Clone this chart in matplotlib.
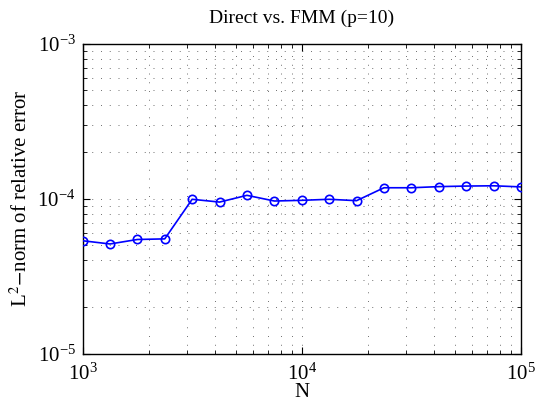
import numpy as np
import matplotlib
matplotlib.use('Agg')
import matplotlib.pyplot as plt
from matplotlib.ticker import LogLocator, NullFormatter

# N = 10^3 ... 10^5, 17 sample sizes
N = [1000, 1334, 1778, 2371, 3162, 4217, 5623, 7499, 10000,
     13335, 17783, 23714, 31623, 42170, 56234, 74989, 100000]
err = [5.35e-5, 5.1e-5, 5.45e-5, 5.5e-5, 9.9e-5, 9.5e-5, 1.05e-4, 9.65e-5, 9.75e-5,
       9.9e-5, 9.7e-5, 1.175e-4, 1.175e-4, 1.195e-4, 1.205e-4, 1.21e-4, 1.19e-4]

plt.rcParams['font.family'] = ['Liberation Serif', 'DejaVu Serif']
plt.rcParams['mathtext.fontset'] = 'stix'

fig = plt.figure(figsize=(5.36, 4.07), dpi=100)
ax = fig.add_axes([0.154, 0.131, 0.818, 0.762])

ax.loglog(N, err, '-o', color='#0000ff', lw=1.2, ms=6, mfc='none', mew=1.2, zorder=3)

ax.set_xlim(1e3, 1e5)
ax.set_ylim(1e-5, 1e-3)
ax.xaxis.set_minor_locator(LogLocator(base=10, subs=np.arange(2, 10)))
ax.yaxis.set_minor_locator(LogLocator(base=10, subs=np.arange(2, 10)))
ax.xaxis.set_minor_formatter(NullFormatter())
ax.yaxis.set_minor_formatter(NullFormatter())

ax.grid(True, which='both', linestyle=(0, (1, 8)), color='#333333', lw=0.7, alpha=0.7)
ax.tick_params(which='both', direction='in', top=True, right=True, labelsize=15)
ax.tick_params(axis='x', which='major', pad=7)
ax.tick_params(axis='y', which='major', pad=5)
ax.tick_params(which='major', length=5)
ax.tick_params(which='minor', length=3)
for s in ax.spines.values():
    s.set_linewidth(1.0)

ax.set_xlabel('N', fontsize=15, labelpad=-1)
ax.set_ylabel(r'L$^2$$-$norm of relative error', fontsize=15, labelpad=4)
ax.set_title('Direct vs. FMM (p=10)', fontsize=14, pad=15)

fig.savefig('out.png', dpi=100)
